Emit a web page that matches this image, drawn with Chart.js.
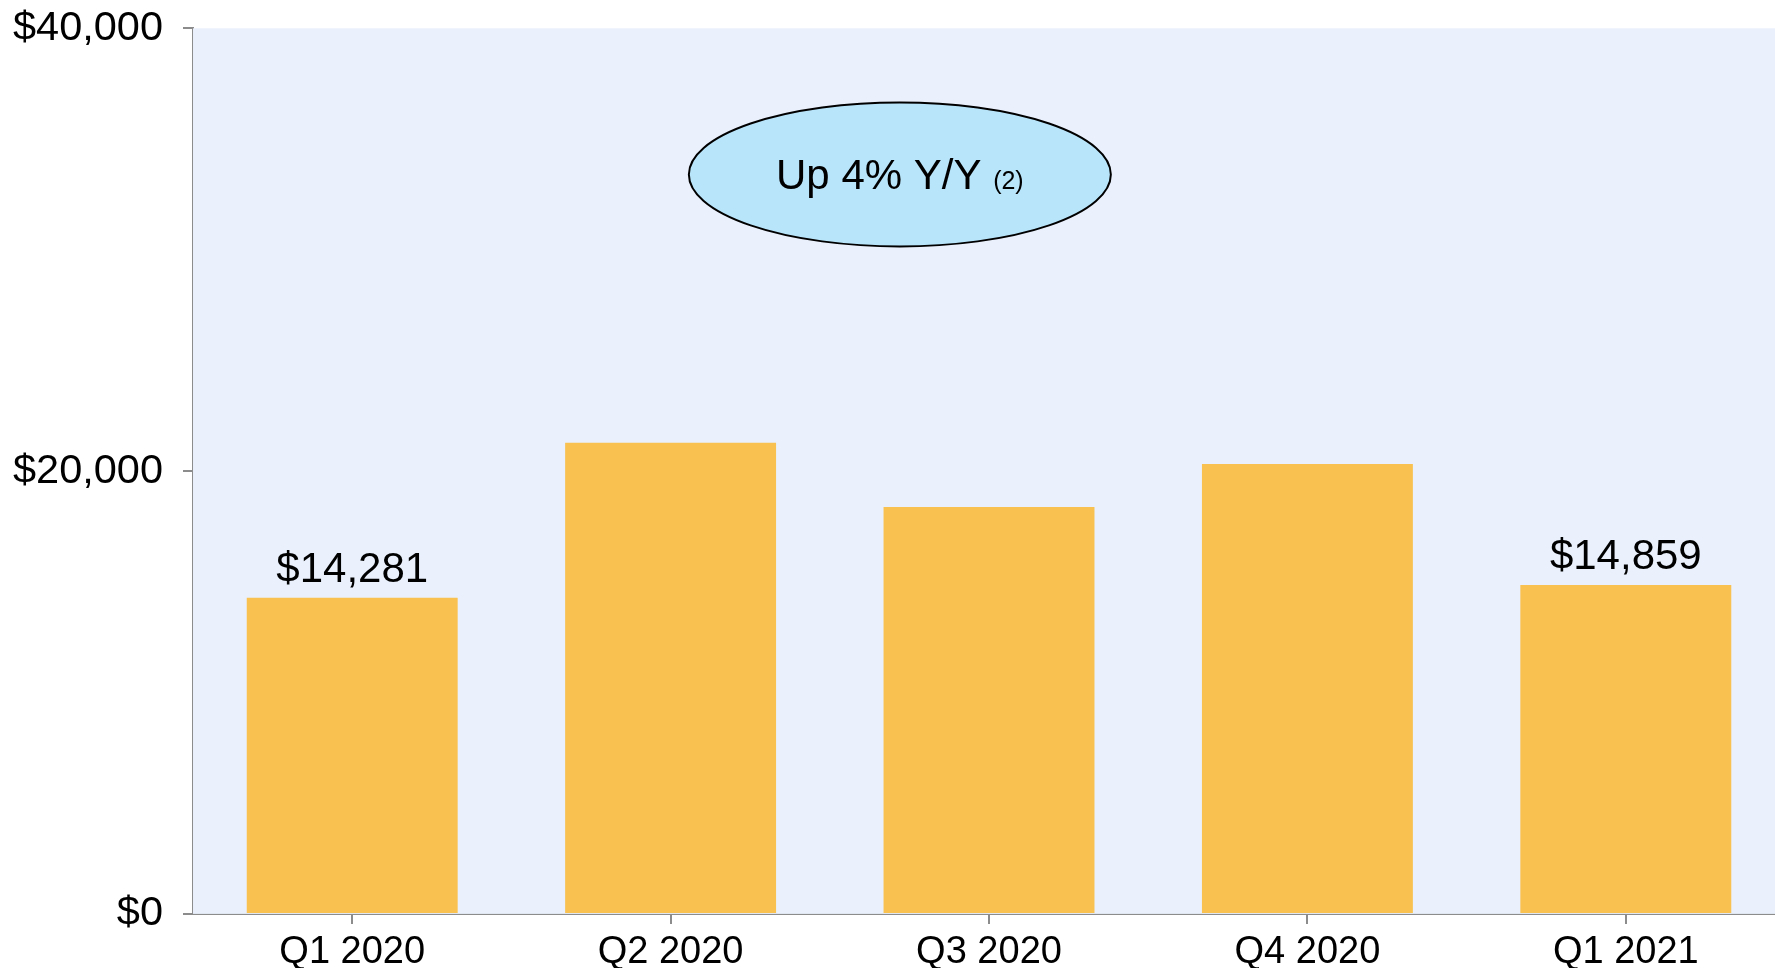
<!DOCTYPE html>
<html lang="en">
<head>
  <meta charset="UTF-8">
  <title>Quarterly Revenue</title>
  <script src="https://cdn.jsdelivr.net/npm/chart.js"></script>
  <style>
    html, body {
      margin: 0;
      padding: 0;
      background: #ffffff;
      overflow: hidden;
    }
    .wrap {
      width: 1785px;
      height: 968px;
    }
  </style>
</head>
<body>
<div class="wrap">
  <canvas id="revChart" width="1785" height="968"></canvas>
</div>

<script>
  // data
  const quarters = ['Q1 2020', 'Q2 2020', 'Q3 2020', 'Q4 2020', 'Q1 2021'];
  const revenue = [14281, 21280, 18380, 20320, 14859];
  const labeledBars = [0, 4];
  const yTicks = [0, 20000, 40000];

  const calloutText = 'Up 4% Y/Y';
  const calloutNote = '(2)';

  const FONT = '"Liberation Sans", Arial, sans-serif';
  const money = v => '$' + v.toLocaleString('en-US');

  // light blue fill behind the plot
  const plotBg = {
    id: 'plotBg',
    beforeDatasetsDraw(chart) {
      const { ctx, chartArea: a } = chart;
      ctx.save();
      ctx.fillStyle = '#eaf1fc';
      ctx.fillRect(a.left, a.top, a.right - a.left, a.bottom - a.top);
      ctx.restore();
    }
  };

  // value labels above first and last bar
  const barLabels = {
    id: 'barLabels',
    afterDatasetsDraw(chart) {
      const { ctx } = chart;
      const bars = chart.getDatasetMeta(0).data;
      ctx.save();
      ctx.font = '42px ' + FONT;
      ctx.fillStyle = '#000';
      ctx.textAlign = 'center';
      ctx.textBaseline = 'alphabetic';
      labeledBars.forEach(i => {
        const b = bars[i];
        ctx.fillText(money(revenue[i]), b.x, b.y - 16);
      });
      ctx.restore();
    }
  };

  // the "Up 4%" bubble, placed in scale units
  const callout = {
    id: 'callout',
    afterDraw(chart) {
      const { ctx, scales } = chart;
      const cx = scales.x.getPixelForValue(1.72);
      const cy = scales.y.getPixelForValue(33400);
      ctx.save();
      ctx.beginPath();
      ctx.ellipse(cx, cy, 211, 72, 0, 0, Math.PI * 2);
      ctx.fillStyle = '#b9e5fa';
      ctx.fill();
      ctx.lineWidth = 2;
      ctx.strokeStyle = '#000';
      ctx.stroke();

      ctx.fillStyle = '#000';
      ctx.textBaseline = 'alphabetic';
      ctx.font = '42px ' + FONT;
      const w1 = ctx.measureText(calloutText + ' ').width;
      ctx.font = '25px ' + FONT;
      const w2 = ctx.measureText(calloutNote).width;
      const x0 = cx - (w1 + w2) / 2;
      ctx.font = '42px ' + FONT;
      ctx.textAlign = 'left';
      ctx.fillText(calloutText, x0, cy + 15);
      ctx.font = '25px ' + FONT;
      ctx.fillText(calloutNote, x0 + w1, cy + 15);
      ctx.restore();
    }
  };

  new Chart(document.getElementById('revChart'), {
    type: 'bar',
    data: {
      labels: quarters,
      datasets: [{
        data: revenue,
        backgroundColor: '#f9c150',
        borderWidth: 0,
        barPercentage: 0.6625,
        categoryPercentage: 1
      }]
    },
    options: {
      responsive: false,
      animation: false,
      devicePixelRatio: 1,
      layout: { padding: { left: -7, top: 0, right: 0, bottom: -13.5 } },
      plugins: {
        legend: { display: false },
        tooltip: { enabled: false }
      },
      scales: {
        x: {
          grid: {
            display: true,
            drawOnChartArea: false,
            drawTicks: true,
            offset: false,
            tickLength: 10,
            color: '#8c8c8c',
            lineWidth: 2
          },
          border: { color: '#8c8c8c', width: 2 },
          ticks: {
            color: '#000',
            padding: 6,
            font: { family: FONT, size: 38 }
          }
        },
        y: {
          min: 0,
          max: 40000,
          afterBuildTicks(axis) {
            axis.ticks = yTicks.map(v => ({ value: v }));
          },
          grid: {
            display: true,
            drawOnChartArea: false,
            drawTicks: true,
            tickLength: 10,
            color: '#8c8c8c',
            lineWidth: 2
          },
          border: { color: '#8c8c8c', width: 2 },
          ticks: {
            color: '#000',
            padding: 20,
            font: { family: FONT, size: 41.5, lineHeight: 0.4 },
            callback: v => money(v)
          }
        }
      }
    },
    plugins: [plotBg, barLabels, callout]
  });
</script>
</body>
</html>
